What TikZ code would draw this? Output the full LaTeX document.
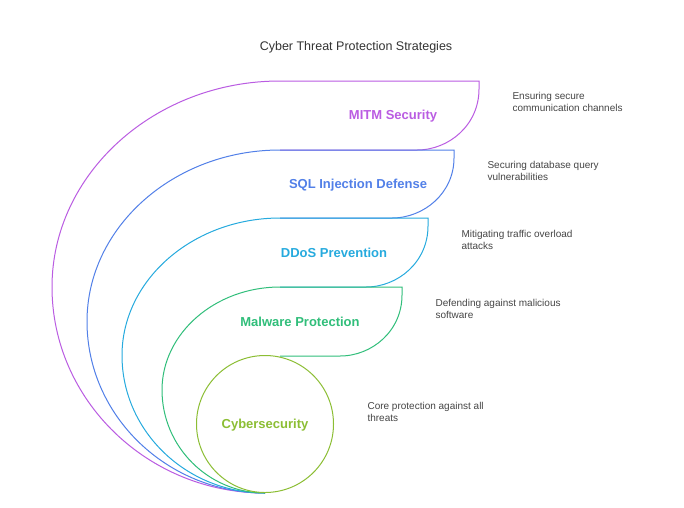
\documentclass[tikz,border=0pt]{standalone}
\usepackage{fontspec}
\setmainfont{Liberation Sans}
\usetikzlibrary{calc}
\definecolor{cMitm}{RGB}{186,92,226}
\definecolor{cSql}{RGB}{82,128,232}
\definecolor{cDdos}{RGB}{38,170,222}
\definecolor{cMal}{RGB}{48,190,122}
\definecolor{cCore}{RGB}{140,190,52}
\definecolor{cNote}{RGB}{70,70,70}
% #1 top, #2 bottom, #3 leftmost x, #4 right x, #5 colour
\def\Layer#1#2#3#4#5{%
 \pgfmathsetmacro\ym{(#1+493)/2}
 \draw[layer line, #5] (265,493)
   .. controls ({265-0.55*(265-#3)},493) and (#3,{\ym+0.55*(493-\ym)}) .. (#3,\ym)
   .. controls (#3,{\ym-0.55*(\ym-#1)}) and ({280-0.55*(280-#3)},#1) .. (280,#1)
   -- (#4,#1) -- (#4,{#1+8})
   .. controls (#4,{#2-25}) and ({#4-30},#2) .. ({#4-62},#2) -- (280,#2);
}
\def\Note#1#2#3#4{%
 \node[note] (#1) at (#2,#3) {#4};
}
\begin{document}
\begin{tikzpicture}[x=1pt,y=-1pt,
  layer line/.style={line width=1pt},
  label/.style={font=\bfseries\fontsize{13}{15}\selectfont},
  note/.style={anchor=west, align=left, text=cNote, font=\fontsize{10}{12.5}\selectfont}]
\useasboundingbox[fill=white] (0,0) rectangle (684,507);
\node[font=\fontsize{12.5}{14}\selectfont, text=black!80] (title) at (356,47) {Cyber Threat Protection Strategies};
\Layer{81}{150}{52}{479}{cMitm}
\Layer{150}{218}{87}{454}{cSql}
\Layer{218}{287}{122}{428}{cDdos}
\Layer{287}{356}{162}{402}{cMal}
\draw[layer line, cCore] (265,424) circle (68.5);
\node[label, text=cMitm] (mitm) at (393,116) {MITM Security};
\node[label, text=cSql] (sql) at (358,185) {SQL Injection Defense};
\node[label, text=cDdos] (ddos) at (334,253) {DDoS Prevention};
\node[label, text=cMal] (mal) at (300,322) {Malware Protection};
\node[label, text=cCore] (core) at (265,425) {Cybersecurity};
\Note{nMitm}{509}{102}{Ensuring secure\\communication channels}
\Note{nSql}{484}{171}{Securing database query\\vulnerabilities}
\Note{nDdos}{458}{240}{Mitigating traffic overload\\attacks}
\Note{nMal}{432}{309}{Defending against malicious\\software}
\Note{nCore}{364}{412}{Core protection against all\\threats}
\end{tikzpicture}
\end{document}
